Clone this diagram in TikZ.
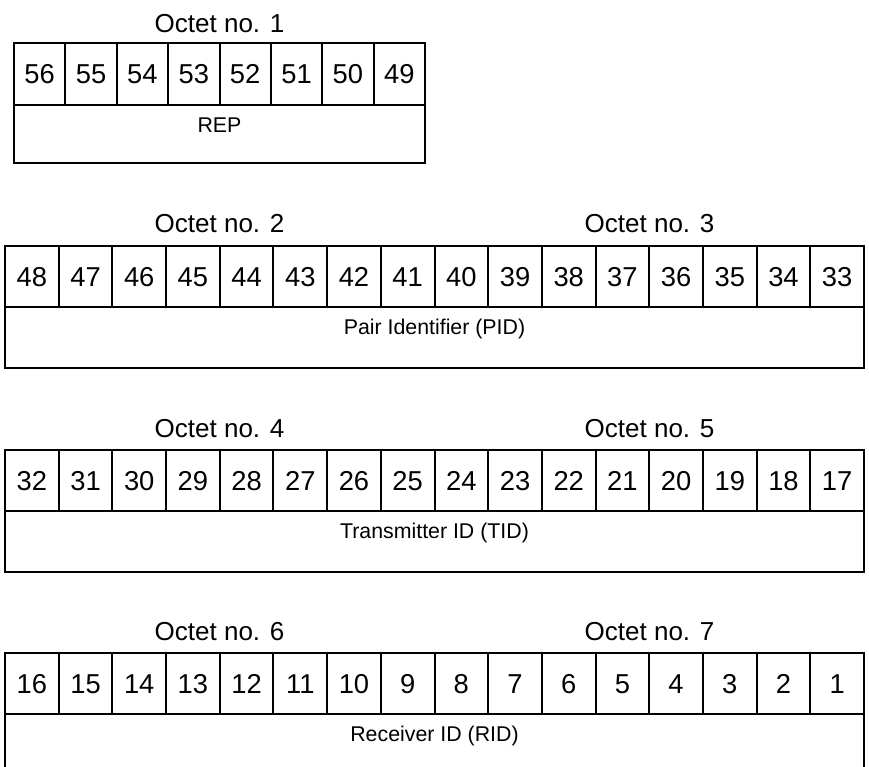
\documentclass[tikz,border=0pt]{standalone}
\usepackage{fontspec}
\setmainfont{Liberation Sans}
\tikzset{
  octetbox/.style={draw=black, line width=1.5pt},
  bitnum/.style={font=\fontsize{20.5}{24}\selectfont, inner sep=0pt,
    text height=14.7pt, text depth=0pt},
  octtitle/.style={font=\fontsize{19.5}{23}\selectfont, inner sep=0pt,
    text height=14pt, text depth=0pt},
  fieldname/.style={font=\fontsize{16}{19}\selectfont, inner sep=0pt,
    text height=11.5pt, text depth=3.4pt}
}

\begin{document}
\begin{tikzpicture}[x=0.75pt,y=0.75pt]
  \path[use as bounding box] (0,0) rectangle (869,767);

  % Octet 1
  \node[octtitle] (oct1) at (219.5,744) {Octet no. 1};
  \draw[octetbox] (14,604) rectangle (425,724);
  \draw[octetbox] (14,662) -- (425,662);
  \foreach \i in {1,...,7}
    \draw[octetbox] ({14+51.375*\i},662) -- ({14+51.375*\i},724);
  \foreach \i in {0,...,7}{
    \pgfmathtruncatemacro{\bit}{56-\i}
    \node[bitnum] (b\bit) at ({14+51.375*(\i+0.5)},693) {\bit};
  }
  \node[fieldname] (rep) at (219.5,640) {REP};

  % Octets 2 and 3
  \node[octtitle] (oct2) at (219.5,544) {Octet no. 2};
  \node[octtitle] (oct3) at (649.5,544) {Octet no. 3};
  \draw[octetbox] (5,399) rectangle (864,521);
  \draw[octetbox] (5,460) -- (864,460);
  \foreach \i in {1,...,15}
    \draw[octetbox] ({5+53.6875*\i},460) -- ({5+53.6875*\i},521);
  \foreach \i in {0,...,15}{
    \pgfmathtruncatemacro{\bit}{48-\i}
    \node[bitnum] (b\bit) at ({5+53.6875*(\i+0.5)},490.5) {\bit};
  }
  \node[fieldname] (pid) at (434.5,438) {Pair Identifier (PID)};

  % Octets 4 and 5
  \node[octtitle] (oct4) at (219.5,339) {Octet no. 4};
  \node[octtitle] (oct5) at (649.5,339) {Octet no. 5};
  \draw[octetbox] (5,195) rectangle (864,317);
  \draw[octetbox] (5,256) -- (864,256);
  \foreach \i in {1,...,15}
    \draw[octetbox] ({5+53.6875*\i},256) -- ({5+53.6875*\i},317);
  \foreach \i in {0,...,15}{
    \pgfmathtruncatemacro{\bit}{32-\i}
    \node[bitnum] (b\bit) at ({5+53.6875*(\i+0.5)},286.5) {\bit};
  }
  \node[fieldname] (tid) at (434.5,234) {Transmitter ID (TID)};

  % Octets 6 and 7
  \node[octtitle] (oct6) at (219.5,136) {Octet no. 6};
  \node[octtitle] (oct7) at (649.5,136) {Octet no. 7};
  \draw[octetbox] (5,-8) rectangle (864,114);
  \draw[octetbox] (5,53) -- (864,53);
  \foreach \i in {1,...,15}
    \draw[octetbox] ({5+53.6875*\i},53) -- ({5+53.6875*\i},114);
  \foreach \i in {0,...,15}{
    \pgfmathtruncatemacro{\bit}{16-\i}
    \node[bitnum] (b\bit) at ({5+53.6875*(\i+0.5)},83.5) {\bit};
  }
  \node[fieldname] (rid) at (434.5,31) {Receiver ID (RID)};
\end{tikzpicture}
\end{document}
